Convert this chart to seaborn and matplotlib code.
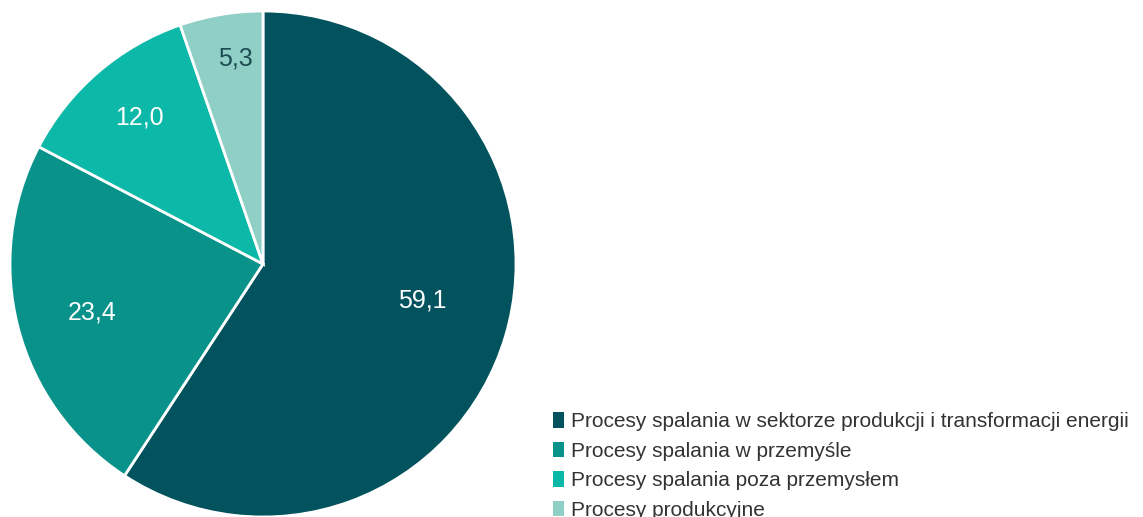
import matplotlib
matplotlib.use("Agg")
import matplotlib.pyplot as plt
import numpy as np
import seaborn as sns
from matplotlib.patches import Patch

# Emission shares by source category (%)
categories = [
    "Procesy spalania w sektorze produkcji i transformacji energii",
    "Procesy spalania w przemyśle",
    "Procesy spalania poza przemysłem",
    "Procesy produkcyjne",
]
shares = [59.1, 23.4, 12.0, 5.3]
value_labels = ["59,1", "23,4", "12,0", "5,3"]

sns.set_theme(style="white")
plt.rcParams["font.family"] = ["Liberation Sans", "DejaVu Sans"]

palette = sns.color_palette(["#02535d", "#08928a", "#0cb8a7", "#8fcfc5"])
label_colors = ["white", "white", "white", "#1d4c52"]
# radial position (fraction of radius) and angular nudge (deg) for each value label
label_radius = [0.645, 0.70, 0.76, 0.82]
label_nudge = [3.6, 1.2, -0.6, -2.0]

fig = plt.figure(figsize=(11.43, 5.17), dpi=100)
fig.patch.set_facecolor("white")
ax = fig.add_axes([10 / 1143, 0.0, 506 / 1143, 506 / 517])

wedges, _ = ax.pie(
    shares,
    colors=palette,
    startangle=90,
    counterclock=False,
    radius=1.0,
    wedgeprops=dict(edgecolor="white", linewidth=2),
)
ax.set_xlim(-1, 1)
ax.set_ylim(-1, 1)
ax.set_aspect("equal")
ax.axis("off")

for w, txt, col, r, nd in zip(wedges, value_labels, label_colors, label_radius, label_nudge):
    ang = np.deg2rad((w.theta1 + w.theta2) / 2 + nd)
    ax.text(r * np.cos(ang), r * np.sin(ang), txt, ha="center", va="center",
            fontsize=18, color=col)

handles = [Patch(facecolor=c, edgecolor="none") for c in palette]
fig.legend(
    handles, categories,
    loc="upper left",
    bbox_to_anchor=(553 / 1143, 1 - 412 / 517),
    frameon=False,
    fontsize=15,
    labelcolor="#333333",
    handlelength=0.53,
    handleheight=0.77,
    handletextpad=0.34,
    labelspacing=0.51,
    borderpad=0,
    borderaxespad=0,
)

fig.savefig("out.png", dpi=100, facecolor="white")
